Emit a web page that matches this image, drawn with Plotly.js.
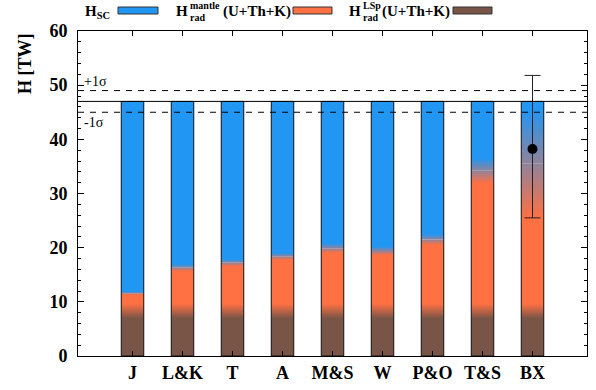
<!DOCTYPE html>
<html><head><meta charset="utf-8">
<script src="https://cdn.plot.ly/plotly-3.0.1.min.js"></script>
<style>html,body{margin:0;padding:0;background:#fff}#chart{width:596px;height:390px}</style>
</head><body><div id="chart"></div>
<script>
// ---- data ----
const categories = ['J', 'L&K', 'T', 'A', 'M&S', 'W', 'P&O', 'T&S', 'BX'];
const totalHeat = 47;          // TW, total surface heat flow
const totalSigma = 2;          // TW, 1 sigma
const lspHeat = [8.3, 8.3, 8.3, 8.3, 8.3, 8.3, 8.3, 8.3, 8.3];
const lspSpread = [1.35, 1.35, 1.35, 1.35, 1.35, 1.35, 1.35, 1.35, 1.35];
const radTopHeat = [11.6, 16.3, 17.2, 18.4, 19.9, 19.4, 21.5, 34.2, 35.5]; // LSp + mantle
const mantleSpread = [0.3, 0.65, 0.65, 0.65, 0.9, 0.8, 1.0, 2.3, 10.0];
const bxCategory = ['BX'];
const bxMeasured = [38.2];
const bxErrPlus = [13.6];
const bxErrMinus = [12.7];
const yTickVals = [0, 10, 20, 30, 40, 50, 60];

const mantleHeat = radTopHeat.map((v, i) => v - lspHeat[i]);
const scHeat = radTopHeat.map(v => totalHeat - v);
const totals = categories.map(() => totalHeat);

const C_SC = '#2196F3', C_MAN = '#FF7043', C_LSP = '#795548';
const FONT = 'Liberation Serif, Times New Roman, serif';

// plot area in pixels (for paper-coordinate helpers)
const L = 78, R = 587, T = 31, B = 356;
const px = x => (x - L) / (R - L);
const py = y => (B - y) / (B - T);

const BW = 0.45;
const data = [
  {type: 'bar', x: categories, y: lspHeat, base: 0, width: BW, marker: {color: C_LSP, line: {width: 0}}, showlegend: false, name: 'H_rad^LSp'},
  {type: 'bar', x: categories, y: mantleHeat, base: lspHeat, width: BW, marker: {color: C_MAN, line: {width: 0}}, showlegend: false, name: 'H_rad^mantle'},
  {type: 'bar', x: categories, y: scHeat, base: radTopHeat, width: BW, marker: {color: C_SC, line: {width: 0}}, showlegend: false, name: 'H_SC'},
  {type: 'bar', x: categories, y: totals, base: 0, width: BW, marker: {color: 'rgba(0,0,0,0)', line: {width: 1, color: '#111'}}, showlegend: false, hoverinfo: 'skip'},
  {type: 'scatter', mode: 'markers', x: bxCategory, y: bxMeasured, marker: {color: 'black', size: 10},
   error_y: {type: 'data', symmetric: false, array: bxErrPlus, arrayminus: bxErrMinus, color: '#222', thickness: 1, width: 8},
   showlegend: false, name: 'BX'}
];

const tf = {family: FONT, size: 18, color: 'black', weight: 'bold'};
const ann = [];
const legFont = s => ({family: FONT, size: s, color: 'black', weight: 'bold'});
function lab(text, x, y, size) {
  ann.push({text, xref: 'paper', yref: 'paper', x: px(x), y: py(y), xanchor: 'left', yanchor: 'middle', showarrow: false, font: legFont(size), borderpad: 0});
}
lab('H<sub>SC</sub>', 84, 12, 15);
lab('H', 175, 11.5, 15); lab('mantle', 188.5, 5.8, 10); lab('rad', 188.5, 17.3, 10); lab('(U+Th+K)', 222, 11.5, 15);
lab('H', 348, 11.5, 15); lab('LSp', 361.5, 5.8, 10); lab('rad', 361.5, 17.3, 10); lab('(U+Th+K)', 381, 11.5, 15);
ann.push({text: 'H [TW]', textangle: -90, xref: 'paper', yref: 'paper', x: px(25), y: py(64), xanchor: 'center', yanchor: 'middle', showarrow: false, font: tf});
ann.push({text: '+1σ', xref: 'paper', yref: 'y', x: px(83), y: totalHeat + totalSigma, xanchor: 'left', yanchor: 'bottom', yshift: 1, showarrow: false, font: {family: FONT, size: 14, color: 'black'}, borderpad: 0});
ann.push({text: '-1σ', xref: 'paper', yref: 'y', x: px(83), y: totalHeat - totalSigma, xanchor: 'left', yanchor: 'top', yshift: -2, showarrow: false, font: {family: FONT, size: 14, color: 'black'}, borderpad: 0});

function box(x0, x1, color) {
  return {type: 'rect', xref: 'paper', yref: 'paper', x0: px(x0), x1: px(x1), y0: py(14), y1: py(7), fillcolor: color, line: {color: '#333', width: 1}};
}
const shapes = [
  box(118, 158, C_SC), box(293, 332, C_MAN), box(453, 492, C_LSP),
  {type: 'line', xref: 'paper', yref: 'y', x0: 0, x1: 1, y0: totalHeat, y1: totalHeat, line: {color: 'black', width: 1}},
  {type: 'line', xref: 'paper', yref: 'y', x0: 0, x1: 1, y0: totalHeat + totalSigma, y1: totalHeat + totalSigma, line: {color: 'black', width: 1, dash: '6px,6px'}},
  {type: 'line', xref: 'paper', yref: 'y', x0: 0, x1: 1, y0: totalHeat - totalSigma, y1: totalHeat - totalSigma, line: {color: 'black', width: 1, dash: '6px,6px'}}
];

const layout = {
  width: 596, height: 390,
  margin: {l: L, r: 596 - R, t: T, b: 390 - B, pad: 0},
  paper_bgcolor: 'white', plot_bgcolor: 'white',
  barmode: 'overlay', showlegend: false,
  xaxis: {type: 'category', range: [-1.09, 9.09], showline: true, linecolor: 'black', linewidth: 1, mirror: 'ticks',
          ticks: 'inside', ticklen: 5, tickcolor: 'black', tickfont: tf, showgrid: false, zeroline: false},
  yaxis: {range: [0, 60], tickvals: yTickVals, showline: true, linecolor: 'black', linewidth: 1, mirror: 'ticks',
          ticks: 'inside', ticklen: 6, tickcolor: 'black', tickfont: tf, showgrid: false, zeroline: false,
          ticklabelstandoff: 6,
          minor: {dtick: 2, ticks: 'inside', ticklen: 3, tickcolor: 'black', showgrid: false}},
  annotations: ann, shapes: shapes
};

const gd = document.getElementById('chart');
Plotly.newPlot(gd, data, layout, {staticPlot: true}).then(applyGradients);

function applyGradients() {
  const ya = gd._fullLayout.yaxis;
  const NS = 'http://www.w3.org/2000/svg';
  const svg = gd.querySelector('svg.main-svg');
  let defs = svg.querySelector('defs');
  if (!defs) { defs = document.createElementNS(NS, 'defs'); svg.insertBefore(defs, svg.firstChild); }
  const clamp = v => Math.max(0, Math.min(1, v));
  categories.forEach((c, i) => {
    const g = document.createElementNS(NS, 'linearGradient');
    g.setAttribute('id', 'heatgrad' + i);
    g.setAttribute('gradientUnits', 'userSpaceOnUse');
    g.setAttribute('x1', 0); g.setAttribute('x2', 0);
    g.setAttribute('y1', ya.l2p(0)); g.setAttribute('y2', ya.l2p(totalHeat));
    const stops = [
      [0, C_LSP],
      [(lspHeat[i] - lspSpread[i]) / totalHeat, C_LSP],
      [(lspHeat[i] + lspSpread[i]) / totalHeat, C_MAN],
      [(radTopHeat[i] - mantleSpread[i]) / totalHeat, C_MAN],
      [(radTopHeat[i] + mantleSpread[i]) / totalHeat, C_SC],
      [1, C_SC]
    ];
    stops.forEach(([o, col]) => {
      const s = document.createElementNS(NS, 'stop');
      s.setAttribute('offset', clamp(o));
      s.setAttribute('stop-color', col);
      g.appendChild(s);
    });
    defs.appendChild(g);
  });
  const traces = gd.querySelectorAll('.barlayer .trace');
  for (let t = 0; t < 3; t++) {
    traces[t].querySelectorAll('.point path').forEach((p, i) => { p.style.fill = 'url(#heatgrad' + i + ')'; });
  }
}
</script>
</body></html>
